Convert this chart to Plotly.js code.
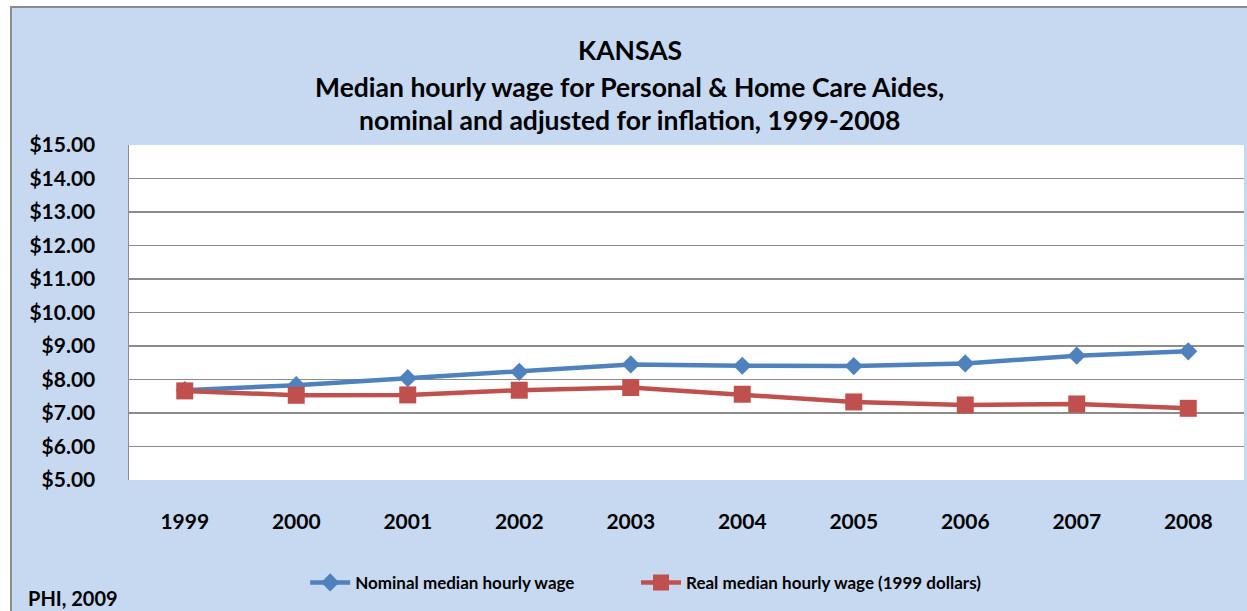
<!DOCTYPE html>
<html><head><meta charset="utf-8">
<script src="https://cdn.plot.ly/plotly-3.0.1.min.js"></script>
<style>
html,body{margin:0;padding:0;background:#fff;overflow:hidden;}
#frame{position:absolute;left:10px;top:6px;width:1237px;height:605px;box-sizing:border-box;border-left:2px solid #8c8c8c;border-top:2px solid #8c8c8c;background:#C6D9F1;}
#chart{width:1235px;height:603px;}
</style></head>
<body><div id="frame"><div id="chart"></div></div>
<script>
const years = ['1999','2000','2001','2002','2003','2004','2005','2006','2007','2008'];
const nominalWage = [7.68, 7.83, 8.04, 8.23, 8.45, 8.41, 8.40, 8.48, 8.71, 8.84];
const realWage = [7.66, 7.53, 7.54, 7.68, 7.76, 7.56, 7.33, 7.24, 7.27, 7.14];
const yTicks = [5,6,7,8,9,10,11,12,13,14,15];
const yTickText = yTicks.map(v => '<b>$' + v.toFixed(2) + '</b>');
const xTickText = years.map(y => '<b>' + y + '</b>');
const titleLines = ['KANSAS', 'Median hourly wage for Personal &amp; Home Care Aides,', 'nominal and adjusted for inflation, 1999-2008'];
const seriesNames = ['Nominal median hourly wage', 'Real median hourly wage (1999 dollars)'];

const font = 'Lato, "Open Sans", sans-serif';
const pad = '&nbsp;'.repeat(13);
const traces = [
  {x: years, y: nominalWage, type: 'scatter', mode: 'lines+markers', name: '<b>' + seriesNames[0] + '</b>' + pad,
   line: {color: '#4F81BD', width: 4.5}, marker: {symbol: 'diamond', size: 14, color: '#4F81BD'}},
  {x: years, y: realWage, type: 'scatter', mode: 'lines+markers', name: '<b>' + seriesNames[1] + '</b>',
   line: {color: '#C0504D', width: 4.5}, marker: {symbol: 'square', size: 17, color: '#C0504D'}}
];
const titleY = [1.284, 1.173, 1.075];
const annotations = titleLines.map((t, i) => ({
  text: '<b>' + t + '</b>', xref: 'paper', yref: 'paper', x: 0.449, y: titleY[i], xanchor: 'center', yanchor: 'middle',
  showarrow: false, font: {family: font, size: 26.5, color: '#000'}
}));
annotations.push({text: '<b>PHI, 2009</b>', xref: 'paper', yref: 'paper', x: -0.092, y: -0.352, xanchor: 'left', yanchor: 'middle',
  showarrow: false, font: {family: font, size: 20, color: '#000'}});

const layout = {
  width: 1235, height: 603,
  margin: {l: 117, r: 3, t: 137, b: 131},
  paper_bgcolor: '#C6D9F1', plot_bgcolor: '#FFFFFF',
  font: {family: font, color: '#000'},
  xaxis: {type: 'category', range: [-0.5, 9.5], tickvals: years, ticktext: xTickText, showgrid: false, zeroline: false, showline: false,
          ticks: '', tickfont: {family: font, size: 21, color: '#000'}, ticklabelstandoff: 27},
  yaxis: {range: [5, 15], tickvals: yTicks, ticktext: yTickText, showgrid: true, gridcolor: '#8c8c8c', gridwidth: 1.5,
          zeroline: false, showline: true, linecolor: '#8c8c8c', linewidth: 1.5, ticks: '',
          tickfont: {family: font, size: 21, color: '#000'}, ticklabelstandoff: 28},
  showlegend: true,
  legend: {orientation: 'h', x: 0.158, xanchor: 'left', y: -0.307, yanchor: 'middle', bgcolor: 'rgba(0,0,0,0)',
           font: {family: font, size: 17, color: '#000'}, itemwidth: 40},
  annotations: annotations
};
Plotly.newPlot('chart', traces, layout, {displayModeBar: false, staticPlot: true});
</script></body></html>
